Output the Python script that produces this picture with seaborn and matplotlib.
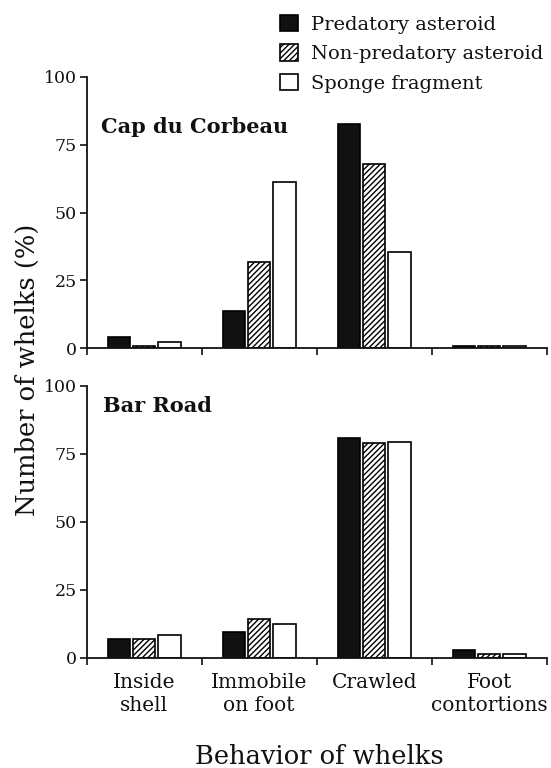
import matplotlib
matplotlib.use("Agg")
import matplotlib.pyplot as plt
import seaborn as sns
import pandas as pd
from matplotlib.patches import Patch

behaviors = ["Inside\nshell", "Immobile\non foot", "Crawled", "Foot\ncontortions"]
stimuli = ["Predatory asteroid", "Non-predatory asteroid", "Sponge fragment"]

cap_predatory = [4.0, 13.7, 82.5, 1.0]
cap_nonpredatory = [0.9, 31.9, 67.9, 1.0]
cap_sponge = [2.5, 61.4, 35.6, 1.0]

bar_predatory = [6.9, 9.6, 80.7, 2.8]
bar_nonpredatory = [7.0, 14.1, 79.1, 1.2]
bar_sponge = [8.3, 12.5, 79.3, 1.2]

sites = ["Cap du Corbeau", "Bar Road"]
yticks = [0, 25, 50, 75, 100]


def long_df(pred, nonpred, sponge):
    rows = []
    for stim, vals in zip(stimuli, [pred, nonpred, sponge]):
        for b, v in zip(behaviors, vals):
            rows.append({"behavior": b, "stimulus": stim, "value": v})
    return pd.DataFrame(rows)


dfs = [long_df(cap_predatory, cap_nonpredatory, cap_sponge),
       long_df(bar_predatory, bar_nonpredatory, bar_sponge)]

sns.set_style("ticks")
plt.rcParams["font.family"] = ["DejaVu Serif"]
plt.rcParams["hatch.linewidth"] = 1.0
plt.rcParams["hatch.color"] = "black"
for key in ["text.color", "axes.labelcolor", "xtick.color", "ytick.color",
            "axes.edgecolor"]:
    plt.rcParams[key] = "#111111"

fig = plt.figure(figsize=(5.51, 7.68), dpi=100)
W, H = 551, 768
left = 86.7 / W
width = (546.7 - 86.7) / W
axes_px = [(76.7, 348.3), (386.0, 657.7)]
colors = ["#111111", "white", "white"]

for i, (df, site) in enumerate(zip(dfs, sites)):
    top, bot = axes_px[i]
    ax = fig.add_axes([left, 1 - bot / H, width, (bot - top) / H])
    sns.barplot(data=df, x="behavior", y="value", hue="stimulus",
                order=behaviors, hue_order=stimuli, palette=colors,
                width=0.66, gap=0.11, edgecolor="black", linewidth=1.2,
                errorbar=None, legend=False, ax=ax)
    for patch in ax.containers[1]:
        patch.set_hatch("//////")
    ax.set_xlim(-0.5, 3.5)
    ax.set_ylim(0, 100)
    ax.set_yticks(yticks)
    ax.set_yticklabels([str(t) for t in yticks], fontsize=12.5)
    ax.set_xticks([-0.5, 0.5, 1.5, 2.5, 3.5])
    ax.set_xticklabels([])
    ax.set_xticks([0, 1, 2, 3], minor=True)
    if i == 1:
        labs = ax.set_xticklabels(behaviors, minor=True, fontsize=14.5)
        for t in labs:
            t.set_linespacing(1.25)
    else:
        ax.set_xticklabels([], minor=True)
    ax.tick_params(axis="x", which="minor", length=0, pad=11)
    ax.tick_params(axis="x", which="major", length=5, width=1.2, direction="out")
    ax.tick_params(axis="y", length=5, width=1.2, pad=2)
    ax.set_xlabel("")
    ax.set_ylabel("")
    sns.despine(ax=ax)
    for s in ["left", "bottom"]:
        ax.spines[s].set_linewidth(1.3)
    ax.text(0.032 if i == 0 else 0.036, 0.816 if i == 0 else 0.925, site,
            transform=ax.transAxes, fontsize=15, fontweight="bold",
            ha="left", va="center")

handles = [Patch(facecolor=colors[0], edgecolor="black", linewidth=1.2),
           Patch(facecolor="white", edgecolor="black", linewidth=1.2, hatch="//////"),
           Patch(facecolor="white", edgecolor="black", linewidth=1.2)]
fig.legend(handles, stimuli, loc="upper left", bbox_to_anchor=(280 / W, 1 - 15 / H),
           frameon=False, fontsize=14, handlelength=0.9, handleheight=0.9,
           handletextpad=0.7, labelspacing=0.55, borderpad=0, borderaxespad=0)

fig.text(27 / W, 1 - 370 / H, "Number of whelks (%)", rotation=90,
         ha="center", va="center", fontsize=18.5)
fig.text(319 / W, 1 - 756 / H, "Behavior of whelks", ha="center",
         va="center", fontsize=18.5)

fig.savefig("out.png", dpi=100)
